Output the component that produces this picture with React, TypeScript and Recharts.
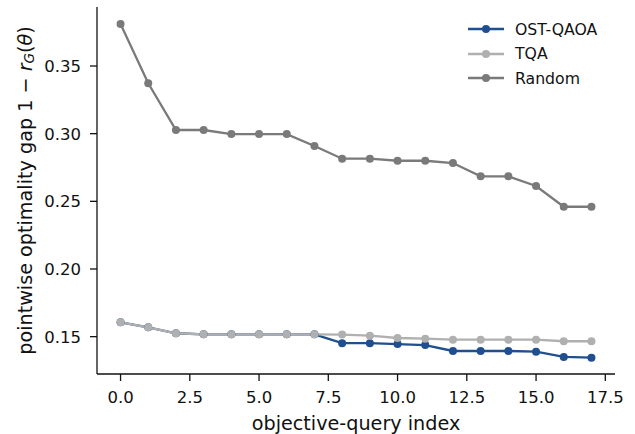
import React from "react";
import { LineChart, Line, XAxis, YAxis } from "recharts";

const indices = [0, 1, 2, 3, 4, 5, 6, 7, 8, 9, 10, 11, 12, 13, 14, 15, 16, 17];
const ostQaoa = [0.1606, 0.1569, 0.1525, 0.1517, 0.1517, 0.1517, 0.1517, 0.1517, 0.1452, 0.1452, 0.1445, 0.1438, 0.1394, 0.1394, 0.1394, 0.1389, 0.135, 0.1345];
const tqa = [0.1606, 0.1569, 0.1525, 0.1517, 0.1517, 0.1517, 0.1517, 0.1517, 0.1515, 0.1507, 0.149, 0.1485, 0.1478, 0.1478, 0.1478, 0.1478, 0.1466, 0.1466];
const randomInit = [0.381, 0.3372, 0.3027, 0.3027, 0.2997, 0.2997, 0.2997, 0.2909, 0.2815, 0.2815, 0.28, 0.28, 0.2783, 0.2685, 0.2685, 0.2613, 0.246, 0.246];
const xTicks = [0, 2.5, 5, 7.5, 10, 12.5, 15, 17.5];
const yTicks = [0.15, 0.2, 0.25, 0.3, 0.35];

const seriesNames = ["OST-QAOA", "TQA", "Random"];
const colors = ["#1f4f8f", "#b0b0b0", "#7a7a7a"];

const data = indices.map((x, i) => ({
  x,
  ost: ostQaoa[i],
  tqa: tqa[i],
  rnd: randomInit[i],
}));

const FONT = "DejaVu Sans";

const YLabel = (props: any) => {
  const vb = props.viewBox || {};
  const cx = 25;
  const cy = vb.y + vb.height / 2;
  return (
    <text
      x={cx}
      y={cy}
      transform={`rotate(-90, ${cx}, ${cy})`}
      textAnchor="middle"
      dominantBaseline="central"
      fontFamily={FONT}
      fontSize={19.2}
      fill="#111"
    >
      <tspan>pointwise optimality gap 1 − </tspan>
      <tspan fontStyle="italic">r</tspan>
      <tspan fontStyle="italic" fontSize={13.5} dy={4}>G</tspan>
      <tspan dy={-4}>(</tspan>
      <tspan fontStyle="italic">θ</tspan>
      <tspan>)</tspan>
    </text>
  );
};

const XLabel = (props: any) => {
  const vb = props.viewBox || {};
  return (
    <text
      x={vb.x + vb.width / 2}
      y={430}
      textAnchor="middle"
      fontFamily={FONT}
      fontSize={19.2}
      fill="#111"
    >
      objective-query index
    </text>
  );
};

const LegendBox = () => (
  <div style={{ position: "absolute", left: 468, top: 17, fontFamily: FONT, fontSize: 15.7, color: "#111" }}>
    {seriesNames.map((n, i) => (
      <div key={n} style={{ display: "flex", alignItems: "center", height: 24.5 }}>
        <svg width={36} height={10} style={{ marginRight: 11 }}>
          <line x1={0} y1={5} x2={36} y2={5} stroke={colors[i]} strokeWidth={2.3} />
          <circle cx={18} cy={5} r={4} fill={colors[i]} />
        </svg>
        <span>{n}</span>
      </div>
    ))}
  </div>
);

export default function App() {
  return (
    <div style={{ position: "absolute", left: 0, top: 0, width: 635, height: 434, background: "#fff" }}>
      <LineChart
        width={635}
        height={434}
        data={data}
        margin={{ top: 7, right: 20, left: 0, bottom: 0 }}
      >
        <XAxis
          dataKey="x"
          type="number"
          domain={[-0.85, 17.85]}
          ticks={xTicks}
          tickFormatter={(v: number) => v.toFixed(1)}
          allowDataOverflow
          height={60}
          tickSize={7}
          tickMargin={10}
          stroke="#111"
          strokeWidth={1.3}
          tick={{ fontFamily: FONT, fontSize: 16.5, fill: "#111" }}
          label={<XLabel />}
        />
        <YAxis
          type="number"
          domain={[0.1224, 0.3936]}
          ticks={yTicks}
          tickFormatter={(v: number) => v.toFixed(2)}
          allowDataOverflow
          width={97}
          tickSize={7}
          tickMargin={9}
          stroke="#111"
          strokeWidth={1.3}
          tick={{ fontFamily: FONT, fontSize: 16.5, fill: "#111" }}
          label={<YLabel />}
        />
        <Line dataKey="ost" name="OST-QAOA" stroke={colors[0]} strokeWidth={2.3} dot={{ r: 4, fill: colors[0], stroke: "none" }} isAnimationActive={false} />
        <Line dataKey="tqa" name="TQA" stroke={colors[1]} strokeWidth={2.3} dot={{ r: 4, fill: colors[1], stroke: "none" }} isAnimationActive={false} />
        <Line dataKey="rnd" name="Random" stroke={colors[2]} strokeWidth={2.3} dot={{ r: 4, fill: colors[2], stroke: "none" }} isAnimationActive={false} />
      </LineChart>
      <LegendBox />
    </div>
  );
}
